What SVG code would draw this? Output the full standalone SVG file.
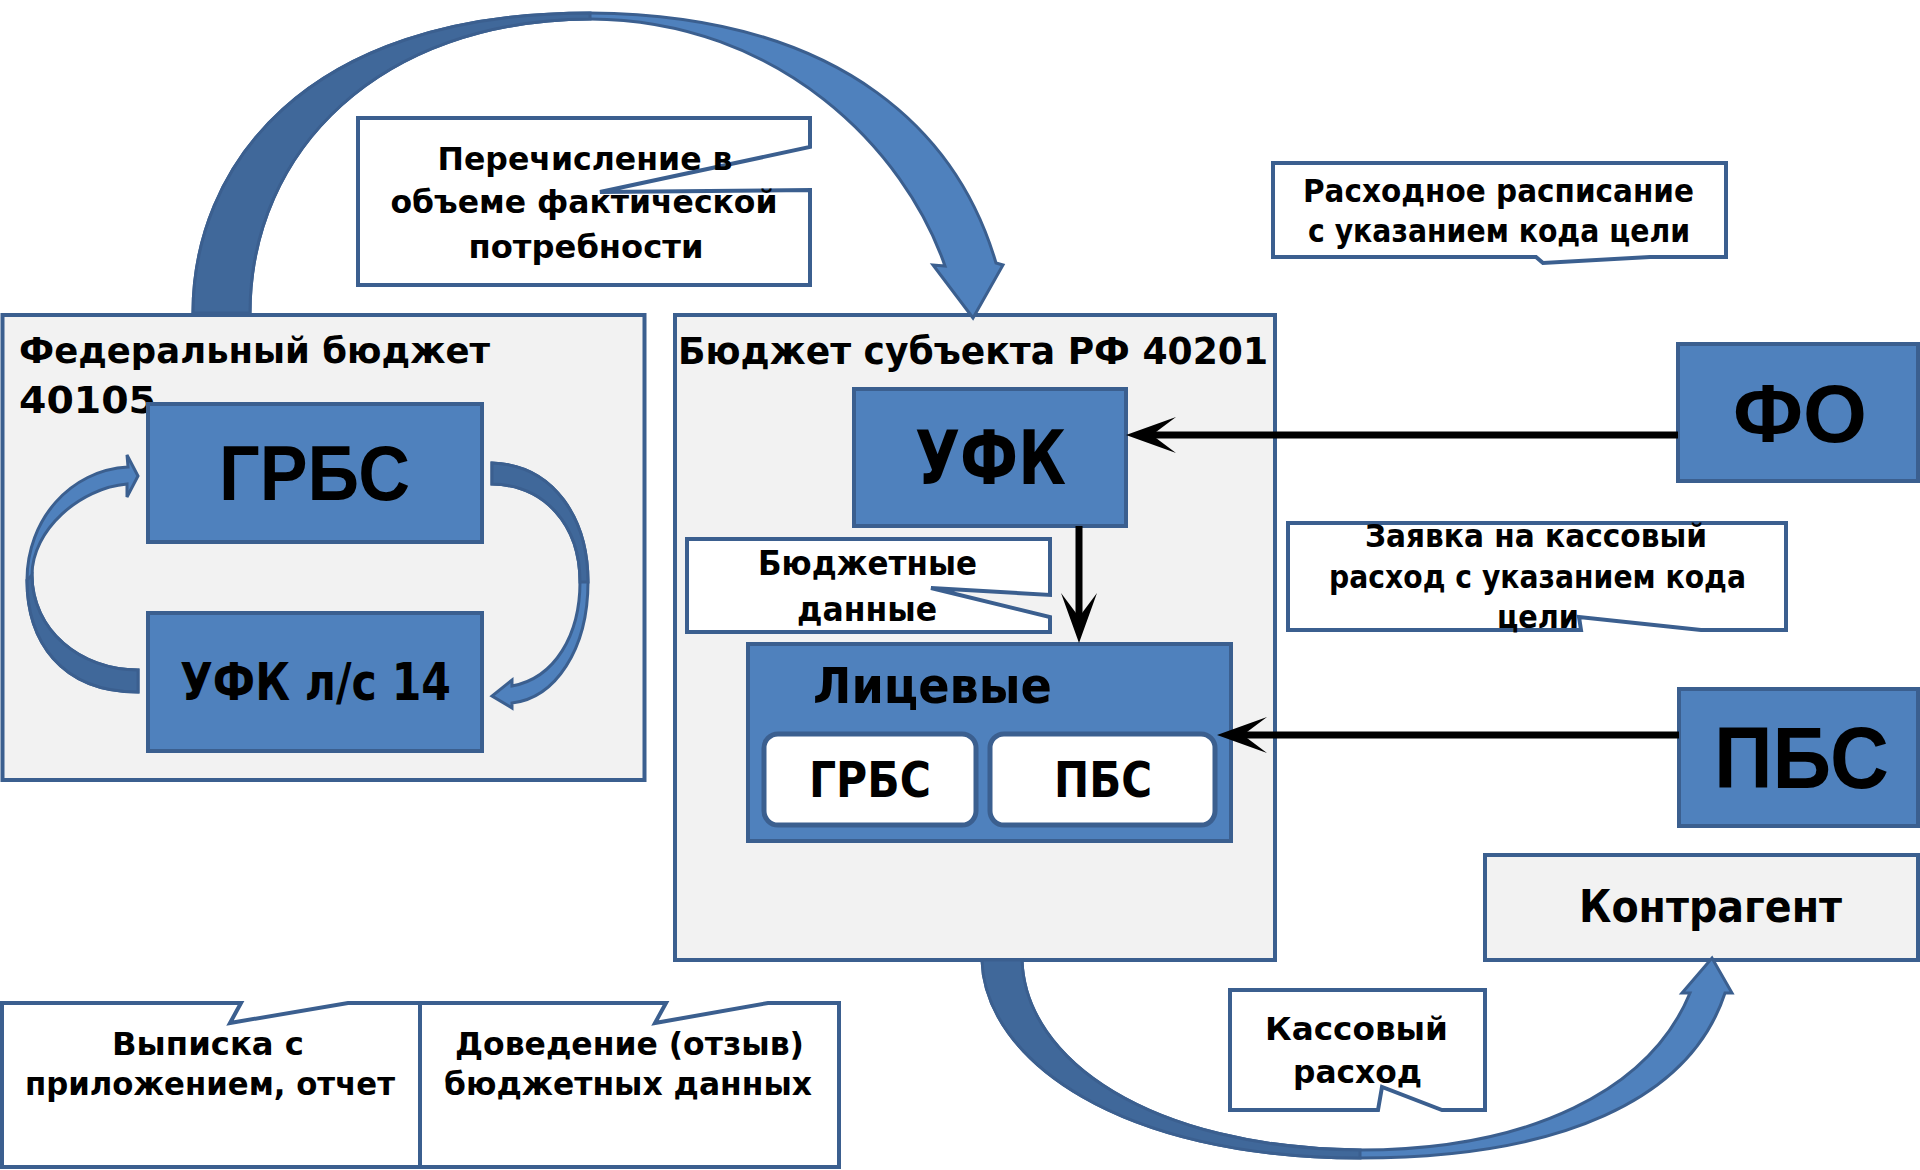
<svg xmlns="http://www.w3.org/2000/svg" width="1920" height="1170" viewBox="0 0 1920 1170">
<style>
.panel{fill:#F2F2F2;stroke:#3B5F8F;stroke-width:4}
.box{fill:#4F81BD;stroke:#3B5F8F;stroke-width:4}
.inner{fill:#FFFFFF;stroke:#3B5F8F;stroke-width:5}
.callout{fill:#FFFFFF;stroke:#3B5F8F;stroke-width:4;stroke-linejoin:miter}
.band{fill:#4F81BD;stroke:#3B5F8F;stroke-width:3;stroke-linejoin:miter}
.shade{fill:#40689A;stroke:#3B5F8F;stroke-width:3}
.line{stroke:#000;stroke-width:7;fill:none}
.t{font-family:"DejaVu Sans","Liberation Sans",sans-serif;font-weight:bold;fill:#000}
.a{font-family:"Liberation Sans","DejaVu Sans",sans-serif;font-weight:bold;fill:#000}
.c{text-anchor:middle}
.s{font-size:32.5px}
</style>
<defs>
<marker id="stealth" markerUnits="userSpaceOnUse" markerWidth="50" markerHeight="36" viewBox="0 0 50 36" refX="24" refY="18" orient="auto">
<path d="M50,18 L0,0 L24,18 L0,36 Z" fill="#000"/>
</marker>
</defs>
<rect width="1920" height="1170" fill="#FFFFFF"/>

<g id="panel-federal">
<rect class="panel" x="2.5" y="315" width="642" height="465"/>
<text class="t" x="19" y="363" font-size="35" textLength="471" lengthAdjust="spacingAndGlyphs">Федеральный бюджет</text>
<text class="t" x="19" y="413" font-size="37" textLength="137" lengthAdjust="spacingAndGlyphs">40105</text>
</g>
<g id="panel-subject">
<rect class="panel" x="675" y="315" width="600" height="645"/>
<text class="t c" x="973" y="364" font-size="38" textLength="590" lengthAdjust="spacingAndGlyphs">Бюджет субъекта РФ 40201</text>
</g>

<g id="node-grbs">
<rect class="box" x="148" y="404" width="334" height="138"/>
<text class="a c" x="314.5" y="500" font-size="77" textLength="191" lengthAdjust="spacingAndGlyphs">ГРБС</text>
</g>
<g id="node-ufk14">
<rect class="box" x="148" y="613" width="334" height="138"/>
<text class="t c" x="315.5" y="700" font-size="51" textLength="271" lengthAdjust="spacingAndGlyphs">УФК л/с 14</text>
</g>
<g id="node-ufk">
<rect class="box" x="854" y="389" width="272" height="137"/>
<text class="t c" x="990.5" y="484" font-size="74" textLength="151" lengthAdjust="spacingAndGlyphs">УФК</text>
</g>
<g id="node-accounts">
<rect class="box" x="748" y="644" width="483" height="197"/>
<text class="t c" x="932.5" y="703" font-size="50" textLength="239" lengthAdjust="spacingAndGlyphs">Лицевые</text>
<rect class="inner" x="764" y="734" width="212" height="91" rx="14"/>
<text class="t c" x="870" y="797" font-size="49" textLength="122" lengthAdjust="spacingAndGlyphs">ГРБС</text>
<rect class="inner" x="990" y="734" width="225" height="91" rx="14"/>
<text class="t c" x="1103" y="797" font-size="49" textLength="98" lengthAdjust="spacingAndGlyphs">ПБС</text>
</g>
<g id="node-fo">
<rect class="box" x="1678" y="344" width="240" height="137"/>
<text class="a c" x="1800" y="442" font-size="82" textLength="134" lengthAdjust="spacingAndGlyphs">ФО</text>
</g>
<g id="node-pbs">
<rect class="box" x="1679" y="689" width="239" height="137"/>
<text class="a c" x="1801.5" y="788" font-size="87" textLength="175" lengthAdjust="spacingAndGlyphs">ПБС</text>
</g>
<g id="node-contractor">
<rect class="panel" x="1485" y="855" width="433" height="105"/>
<text class="t c" x="1710.5" y="922" font-size="44" textLength="263" lengthAdjust="spacingAndGlyphs">Контрагент</text>
</g>

<g id="connectors">
<path class="band" d="M193,313 C193,170 300,13 590,13 C850,15 960,140 996,263 L1003,265 L973,318 L933,265 L945,266 C905,150 780,20 590,19 C380,20 250,150 250,313 Z"/>
<path class="shade" d="M193,313 C193,170 300,13 590,13 L590,19 C380,20 250,150 250,313 Z"/>
<path class="band" d="M982,960 C985,1060 1120,1158 1360,1158 C1560,1158 1690,1100 1725,993 L1732,993 L1712,958 L1682,993 L1690,993 C1650,1090 1530,1150 1360,1150 C1150,1148 1025,1060 1022,960 Z"/>
<path class="shade" d="M982,960 C985,1060 1120,1158 1360,1158 L1360,1150 C1150,1148 1025,1060 1022,960 Z"/>
<path class="band" d="M138,692 C60,692 27,640 27,580 C27,520 70,470 128,467 L127,455 L138,476 L127,497 L127,484 C80,488 32,530 32,575 C32,630 80,670 138,670 Z"/>
<path class="shade" d="M138,692 C60,692 27,640 27,580 L32,575 C32,630 80,670 138,670 Z"/>
<path class="band" d="M492,463 C555,465 588,520 588,582 C588,650 555,698 512,703 L512,708 L492,696 L512,680 L512,686 C555,678 580,635 580,582 C580,525 545,485 492,484 Z"/>
<path class="shade" d="M492,463 C555,465 588,520 588,582 L580,582 C580,525 545,485 492,484 Z"/>
<line class="line" x1="1678" y1="435" x2="1152" y2="435" marker-end="url(#stealth)"/>
<line class="line" x1="1079" y1="526" x2="1079" y2="617" marker-end="url(#stealth)"/>
<line class="line" x1="1679" y1="735" x2="1243" y2="735" marker-end="url(#stealth)"/>
</g>

<g id="callout-transfer">
<path class="callout" d="M358,118 H810 V147 L600,192 L810,190 V285 H358 Z"/>
<text class="t c s" x="585" y="170" textLength="295" lengthAdjust="spacingAndGlyphs">Перечисление в</text>
<text class="t c s" x="584" y="213" textLength="387" lengthAdjust="spacingAndGlyphs">объеме фактической</text>
<text class="t c s" x="586" y="258" textLength="235" lengthAdjust="spacingAndGlyphs">потребности</text>
</g>
<g id="callout-budget-data">
<path class="callout" d="M687,539 H1050 V595 L931,588 L1050,617 V632 H687 Z"/>
<text class="t c" x="867.5" y="575" font-size="33" textLength="219" lengthAdjust="spacingAndGlyphs">Бюджетные</text>
<text class="t c" x="867" y="621" font-size="33" textLength="140" lengthAdjust="spacingAndGlyphs">данные</text>
</g>
<g id="callout-schedule">
<path class="callout" d="M1273,163 H1726 V257 H1650 L1543,263 L1536,257 H1273 Z"/>
<text class="t c s" x="1498.5" y="202" textLength="391" lengthAdjust="spacingAndGlyphs">Расходное расписание</text>
<text class="t c s" x="1499" y="242" textLength="382" lengthAdjust="spacingAndGlyphs">с указанием кода цели</text>
</g>
<g id="callout-request">
<path class="callout" d="M1288,523 H1786 V630 H1701 L1579,617 L1581,630 H1288 Z"/>
<text class="t c s" x="1536" y="547" textLength="342" lengthAdjust="spacingAndGlyphs">Заявка на кассовый</text>
<text class="t c s" x="1537.5" y="588" textLength="417" lengthAdjust="spacingAndGlyphs">расход с указанием кода</text>
<text class="t c s" x="1538" y="628" textLength="82" lengthAdjust="spacingAndGlyphs">цели</text>
</g>
<g id="callout-cash">
<path class="callout" d="M1230,990 H1485 V1110 H1442 L1382,1087 L1378,1110 H1230 Z"/>
<text class="t c s" x="1356.5" y="1040" textLength="183" lengthAdjust="spacingAndGlyphs">Кассовый</text>
<text class="t c s" x="1357.5" y="1083" textLength="129" lengthAdjust="spacingAndGlyphs">расход</text>
</g>
<g id="callout-statement">
<path class="callout" d="M2,1003 H241 L230,1023 L348,1003 H420 V1167 H2 Z"/>
<text class="t c s" x="208" y="1055" textLength="192" lengthAdjust="spacingAndGlyphs">Выписка с</text>
<text class="t c s" x="210" y="1095" textLength="370" lengthAdjust="spacingAndGlyphs">приложением, отчет</text>
</g>
<g id="callout-allocation">
<path class="callout" d="M420,1003 H666 L655,1023 L768,1003 H839 V1167 H420 Z"/>
<text class="t c s" x="629.5" y="1055" textLength="349" lengthAdjust="spacingAndGlyphs">Доведение (отзыв)</text>
<text class="t c s" x="628" y="1095" textLength="368" lengthAdjust="spacingAndGlyphs">бюджетных данных</text>
</g>
</svg>
